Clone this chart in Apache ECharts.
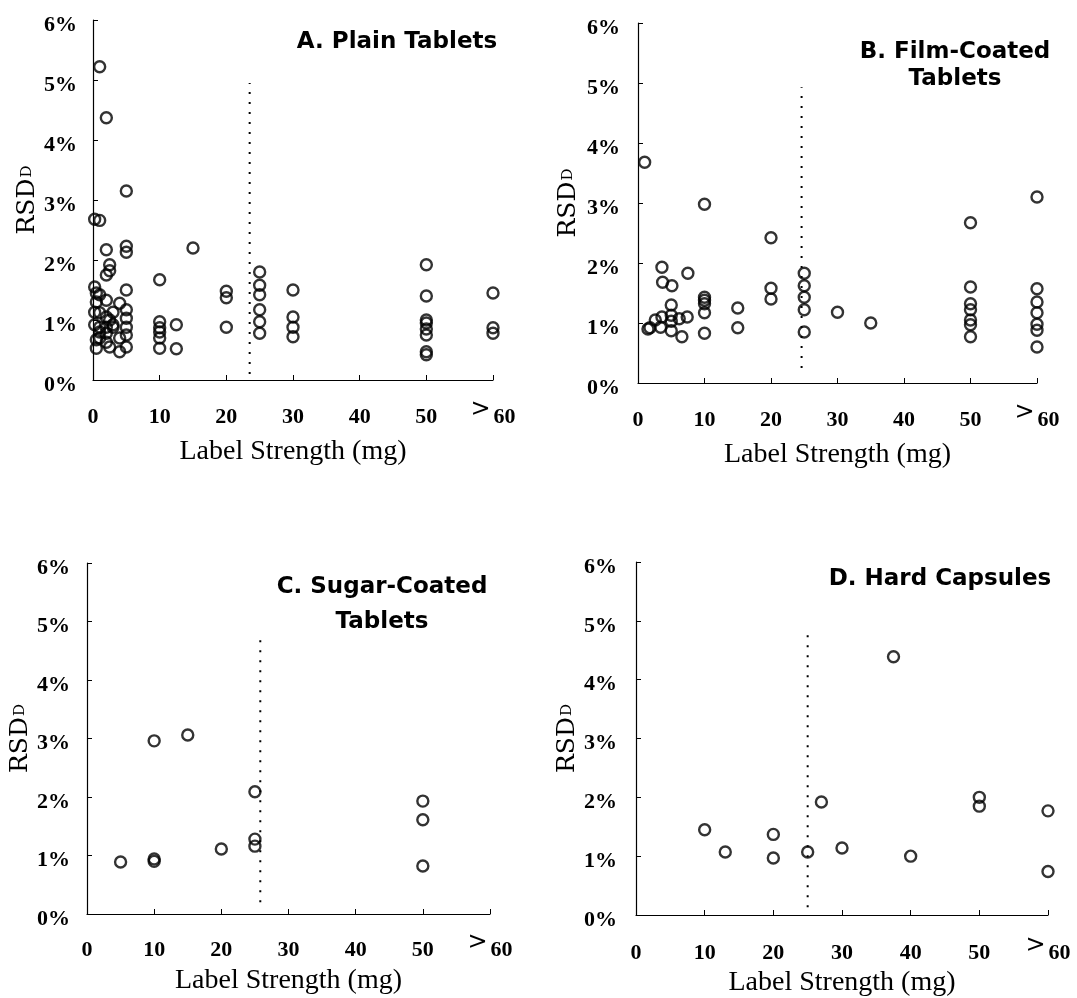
<!DOCTYPE html>
<html>
<head>
<meta charset="utf-8">
<script src="https://cdn.jsdelivr.net/npm/echarts@6/dist/echarts.min.js"></script>
<style>
html,body{margin:0;padding:0;background:#fff;}
#c{width:1077px;height:998px;}
</style>
</head>
<body>
<div id="c"></div>
<script>
// ---- Data (label strength in mg, RSD_D in %) ----
const xTicks = [0, 10, 20, 30, 40, 50, 60];
const yTicks = [0, 1, 2, 3, 4, 5, 6];
const panelTitles = ['A. Plain Tablets', 'B. Film-Coated\nTablets', 'C. Sugar-Coated\nTablets', 'D. Hard Capsules'];
const xAxisTitle = 'Label Strength (mg)';

const xA = [0.25,0.25,0.25,0.25, 0.5,0.5,0.5,0.5, 1,1,1,1,1,1,1, 2,2,2,2,2,2,2,2, 2.5,2.5,2.5,2.5, 3,3,3, 4,4,4,
  5,5,5,5,5,5,5,5,5, 10,10,10,10,10,10, 12.5,12.5, 15, 20,20,20, 25,25,25,25,25,25, 30,30,30,30,
  50,50,50,50,50,50,50,50, 60,60,60];
const yA = [2.68,1.55,1.13,0.92, 1.45,1.3,0.53,0.67, 5.22,2.66,1.42,1.12,0.88,0.8,0.7, 4.37,2.17,1.75,1.33,1.05,0.88,0.63,0.78, 1.82,1.92,1.0,0.55, 1.13,0.88,0.92, 1.28,0.7,0.47,
  3.15,2.23,2.13,1.5,1.17,1.03,0.88,0.75,0.55, 1.67,0.97,0.87,0.8,0.7,0.53, 0.92,0.52, 2.2, 1.48,1.37,0.88, 1.8,1.58,1.42,1.17,0.97,0.78, 1.5,1.05,0.88,0.72,
  1.92,1.4,1.0,0.95,0.85,0.75,0.47,0.42, 1.45,0.87,0.78];

const xB = [1, 1.5, 1.8, 2.6, 3.4, 3.6, 3.6, 3.7, 5, 5, 5, 5, 5.1, 6.2, 6.6, 7.4, 7.5,
  10,10,10,10,10,10, 15,15, 20,20,20, 25,25,25,25,25, 30, 35,
  50,50,50,50,50,50,50, 60,60,60,60,60,60,60];
const yB = [3.68, 0.9, 0.92, 1.05, 0.93, 1.1, 1.93, 1.68, 1.3, 1.13, 1.03, 0.87, 1.62, 1.07, 0.77, 1.1, 1.83,
  2.98,1.43,1.38,1.32,1.17,0.83, 1.25,0.92, 2.42,1.58,1.4, 1.83,1.62,1.43,1.22,0.85, 1.18, 1.0,
  2.67,1.6,1.32,1.22,1.05,0.97,0.77, 3.1,1.57,1.35,1.17,0.98,0.88,0.6];

const xC = [5, 10, 10, 10, 15, 20, 25, 25, 25, 50, 50, 50];
const yC = [0.89, 0.94, 0.9, 2.96, 3.06, 1.11, 2.09, 1.28, 1.16, 1.93, 1.61, 0.82];

const xD = [10, 13, 20, 20, 25, 27, 30, 37.5, 40, 50, 50, 60, 60];
const yD = [1.45, 1.07, 1.37, 0.97, 1.07, 1.92, 1.14, 4.39, 1.0, 2.0, 1.85, 1.77, 0.74];

// dotted cut-off lines: [x, yStart, yEnd]
const cutA = [23.5, 0.1, 4.95];
const cutB = [24.6, 0.25, 4.93];
const cutC = [25.8, 0.2, 4.8];
const cutD = [25.0, 0.13, 4.88];

// ---- Chart ----
const zip = (xs, ys) => xs.map((x, i) => [x, ys[i]]);
const serifBold = "'Liberation Serif', 'DejaVu Serif', serif";

const grids = [
  {left: 93, top: 20, width: 400, height: 360},
  {left: 638, top: 23, width: 399, height: 360},
  {left: 87, top: 563, width: 403, height: 351},
  {left: 636, top: 562, width: 412, height: 353}
];
const xNameGap = [58, 58, 53, 54];
const xLabelMargin = [18, 18, 17, 19];
const yLabelMargin = [16, 18, 17, 19];
const yNameGap = [53, 57, 52, 51];

const xAxes = grids.map((g, i) => ({
  gridIndex: i, type: 'value', min: 0, max: 60, interval: 10,
  axisLine: {lineStyle: {color: '#000', width: 1.2}},
  axisTick: {inside: true, length: 5, lineStyle: {color: '#000'}},
  splitLine: {show: false},
  axisLabel: {
    margin: xLabelMargin[i], color: '#000', verticalAlign: 'top',
    formatter: v => v === 60 ? '{gt|>}{n|60}' : '{n|' + v + '}',
    rich: {
      gt: {fontFamily: "'DejaVu Sans', sans-serif", fontSize: 24, fontWeight: 'normal', color: '#000', verticalAlign: 'top', padding: [0, 3, 0, 0]},
      n: {fontFamily: serifBold, fontSize: 22, fontWeight: 'bold', color: '#000', verticalAlign: 'top', padding: [8, 0, 0, 0]}
    }
  },
  name: xAxisTitle, nameLocation: 'middle', nameGap: xNameGap[i],
  nameTextStyle: {color: '#000', fontFamily: serifBold, fontSize: 28}
}));

const yAxes = grids.map((g, i) => ({
  gridIndex: i, type: 'value', min: 0, max: 6, interval: 1,
  axisLine: {show: true, lineStyle: {color: '#000', width: 1.2}},
  axisTick: {show: true, inside: true, length: 5, lineStyle: {color: '#000'}},
  splitLine: {show: false},
  axisLabel: {
    margin: yLabelMargin[i], color: '#000',
    formatter: v => '{p|' + v + '%}',
    rich: {
      p: {fontFamily: serifBold, fontWeight: 'bold', fontSize: 22, color: '#000', padding: [10, 0, 0, 0]}
    }
  },
  name: '{a|RSD}{b|D}', nameLocation: 'middle', nameRotate: 90, nameGap: yNameGap[i],
  nameTextStyle: {
    rich: {
      a: {fontFamily: "'DejaVu Serif', serif", fontSize: 25, color: '#000'},
      b: {fontFamily: "'DejaVu Serif', serif", fontSize: 15, color: '#000', padding: [0, 0, 0, 1]}
    }
  }
}));

const pts = [zip(xA, yA), zip(xB, yB), zip(xC, yC), zip(xD, yD)];
const cuts = [cutA, cutB, cutC, cutD];

const series = [];
pts.forEach((d, i) => {
  series.push({
    type: 'scatter', xAxisIndex: i, yAxisIndex: i, data: d,
    symbol: 'circle', symbolSize: 11,
    itemStyle: {color: 'rgba(0,0,0,0)', borderColor: '#000', borderWidth: 2.4},
    silent: true
  });
  const c = cuts[i];
  series.push({
    type: 'line', xAxisIndex: i, yAxisIndex: i,
    data: [[c[0], c[1]], [c[0], c[2]]],
    symbol: 'none', silent: true,
    lineStyle: {color: '#000', width: 2, type: [2, 8]}
  });
});

const titleCfg = [
  {left: 397, top: 29, lineHeight: 27},
  {left: 955, top: 39, lineHeight: 27},
  {left: 382, top: 570, lineHeight: 35},
  {left: 940, top: 566, lineHeight: 27}
];
const titles = panelTitles.map((t, i) => ({
  text: t, left: titleCfg[i].left, top: titleCfg[i].top, textAlign: 'center',
  padding: 0,
  textStyle: {fontFamily: "'DejaVu Sans', sans-serif", fontWeight: 'bold', fontSize: 23, color: '#000', lineHeight: titleCfg[i].lineHeight}
}));

const chart = echarts.init(document.getElementById('c'), null, {renderer: 'canvas'});
chart.setOption({
  backgroundColor: '#fff',
  animation: false,
  title: titles,
  grid: grids,
  xAxis: xAxes,
  yAxis: yAxes,
  series: series
});
</script>
</body>
</html>
